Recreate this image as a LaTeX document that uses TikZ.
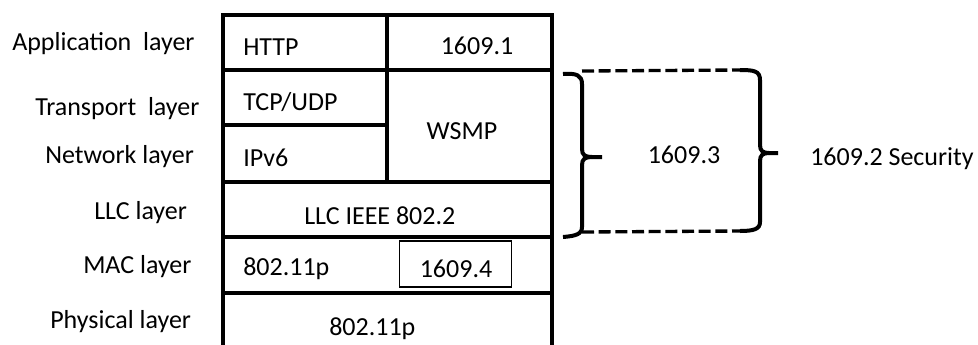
\documentclass[tikz,border=0pt]{standalone}
\usepackage{fontspec}
\setmainfont{Carlito}
\begin{document}
\begin{tikzpicture}[x=0.75pt,y=-0.75pt,
  txt/.style={font=\fontsize{19.5}{23}\selectfont, inner sep=0pt},
  frame/.style={line width=2.3pt, line cap=rect},
  thinbox/.style={draw, line width=0.8pt, minimum width=84pt, minimum height=34.5pt, inner sep=0pt},
  bracepath/.style={line width=3pt},
  dashline/.style={line width=2.5pt, dash pattern=on 9pt off 3.5pt}]
\useasboundingbox (0,0) rectangle (978,344);
% frame
\draw[frame] (223,344) -- (223,15) -- (552,15) -- (552,344);
\draw[frame] (223,70) -- (552,70);
\draw[frame] (223,125) -- (387,125);
\draw[frame] (387,15) -- (387,182);
\draw[frame] (223,182) -- (552,182);
\draw[frame] (223,237) -- (552,237);
\draw[frame] (223,293) -- (552,293);
% layer labels
\node[txt, anchor=base west] (app) at (12,50) {Application\ \ layer};
\node[txt, anchor=base west] (tra) at (35,115) {Transport\ \ layer};
\node[txt, anchor=base west] (net) at (45,163) {Network layer};
\node[txt, anchor=base west] (llc) at (94,219) {LLC layer};
\node[txt, anchor=base west] (mac) at (83,273) {MAC layer};
\node[txt, anchor=base west] (phy) at (50,328) {Physical layer};
% cell texts
\node[txt, anchor=base west] (http) at (243,55) {HTTP};
\node[txt, anchor=base] (p1) at (477,54) {1609.1};
\node[txt, anchor=base west] (tcp) at (243,110) {TCP/UDP};
\node[txt, anchor=base west] (ipv6) at (243,166) {IPv6};
\node[txt, anchor=base] (wsmp) at (462,139) {WSMP};
\node[txt, anchor=base west] (llcieee) at (304,224) {LLC IEEE 802.2};
\node[txt, anchor=base west] (mac1) at (243,275) {802.11p};
\node[thinbox] (b4) at (455.5,264) {};
\node[txt, anchor=base] (p4) at (456,277) {1609.4};
\node[txt, anchor=base west] (phy1) at (329,335) {802.11p};
\node[txt, anchor=base] (p3) at (684,163) {1609.3};
\node[txt, anchor=base west] (p2) at (810,165) {1609.2 Security};
% left brace
\coordinate (lbt) at (563,74);
\coordinate (lbb) at (563,237);
\coordinate (lbtip) at (602,157);
\coordinate (lbtop) at (582,71);
\coordinate (lbbot) at (582,232);
\draw[bracepath, line cap=butt] (lbt) .. controls (576,73) and (582,75) .. (582,84) -- (582,149)
  .. controls (582,155) and (585,157) .. (592,157) -- (lbtip);
\draw[bracepath, line cap=butt] (592,157) .. controls (585,157) and (582,159) .. (582,165) -- (582,227)
  .. controls (582,234) and (576,236) .. (lbb);
% right brace
\coordinate (rbt) at (740,70);
\coordinate (rbb) at (740,231);
\coordinate (rbtip) at (778,153);
\draw[bracepath, line cap=butt] (rbt) .. controls (754,70) and (760,71) .. (760,80) -- (760,145)
  .. controls (760,151) and (763,153) .. (769,153) -- (rbtip);
\draw[bracepath, line cap=butt] (769,153) .. controls (763,153) and (760,155) .. (760,161) -- (760,222)
  .. controls (760,229) and (754,231) .. (rbb);
% dashed lines
\draw[dashline] (lbtop) -- (rbt);
\draw[dashline] (lbbot) -- (rbb);
\end{tikzpicture}
\end{document}
